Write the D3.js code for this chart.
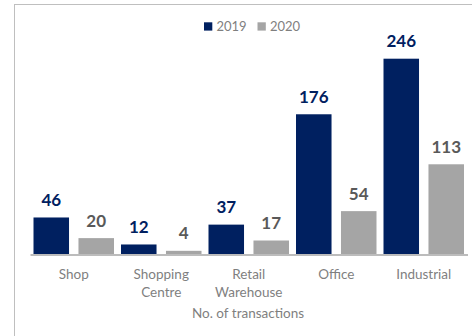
<!DOCTYPE html>
<html>
<head>
<meta charset="utf-8">
<script src="https://cdn.jsdelivr.net/npm/d3@7"></script>
<style>
  html, body { margin: 0; padding: 0; background: #fff; }
  svg { display: block; }
</style>
</head>
<body>
<svg id="chart" width="472" height="336"></svg>
<script>
// Number of transactions by property type, 2019 vs 2020
const categories = [["Shop"], ["Shopping", "Centre"], ["Retail", "Warehouse"], ["Office"], ["Industrial"]];
const seriesNames = ["2019", "2020"];
const values2019 = [46, 12, 37, 176, 246];
const values2020 = [20, 4, 17, 54, 113];
const axisTitle = "No. of transactions";

const barColors = ["#002060", "#a5a5a5"];
const labelColors = ["#002060", "#595959"];
const textGray = "#7f7f7f";
const font = "Lato, 'Open Sans', sans-serif";

const svg = d3.select("#chart");

// chart frame
svg.append("rect")
  .attr("x", 14.5).attr("y", 4.5)
  .attr("width", 480).attr("height", 360)
  .attr("fill", "none").attr("stroke", "#bfbfbf").attr("stroke-width", 1);

const x0 = d3.scaleBand()
  .domain(d3.range(categories.length))
  .range([30, 467.5])
  .padding(0);

const x1 = d3.scaleBand()
  .domain(seriesNames)
  .range([3.5, x0.bandwidth() - 3.5])
  .paddingInner(0.21);

const y = d3.scaleLinear().domain([0, 246]).range([254, 58.7]);

const series = [values2019, values2020];

seriesNames.forEach((name, si) => {
  const g = svg.append("g");
  g.selectAll("rect")
    .data(series[si])
    .join("rect")
    .attr("x", (d, i) => x0(i) + x1(name))
    .attr("y", d => y(d))
    .attr("width", x1.bandwidth())
    .attr("height", d => y(0) - y(d))
    .attr("fill", barColors[si]);

  g.selectAll("text")
    .data(series[si])
    .join("text")
    .attr("x", (d, i) => x0(i) + x1(name) + x1.bandwidth() / 2)
    .attr("y", d => y(d) - 11.4)
    .attr("text-anchor", "middle")
    .attr("font-family", font)
    .attr("font-weight", "bold")
    .attr("font-size", "17px")
    .attr("fill", labelColors[si])
    .text(d => d);
});

// baseline axis
const xAxis = d3.axisBottom(x0).tickSize(0).tickFormat("");
const axisG = svg.append("g")
  .attr("transform", "translate(0,254.5)")
  .call(xAxis);
axisG.select(".domain").attr("stroke", "#a6a6a6").attr("stroke-width", 1.5);

// category labels (multi-line)
categories.forEach((lines, i) => {
  const t = svg.append("text")
    .attr("x", x0(i) + x0.bandwidth() / 2)
    .attr("y", 278.5)
    .attr("text-anchor", "middle")
    .attr("font-family", font)
    .attr("font-size", "13.5px")
    .attr("fill", textGray);
  lines.forEach((ln, k) => {
    t.append("tspan")
      .attr("x", x0(i) + x0.bandwidth() / 2)
      .attr("dy", k === 0 ? 0 : 18)
      .text(ln);
  });
});

// axis title
svg.append("text")
  .attr("x", 248).attr("y", 318)
  .attr("text-anchor", "middle")
  .attr("font-family", font)
  .attr("font-size", "13.5px")
  .attr("fill", textGray)
  .text(axisTitle);

// legend
const legendItems = [{ name: seriesNames[0], x: 204 }, { name: seriesNames[1], x: 257.5 }];
legendItems.forEach((it, i) => {
  svg.append("rect")
    .attr("x", it.x).attr("y", 22.3)
    .attr("width", 8.3).attr("height", 8.3)
    .attr("fill", barColors[i]);
  svg.append("text")
    .attr("x", it.x + 12.5).attr("y", 31.2)
    .attr("font-family", font)
    .attr("font-size", "13px")
    .attr("fill", textGray)
    .text(it.name);
});
</script>
</body>
</html>
